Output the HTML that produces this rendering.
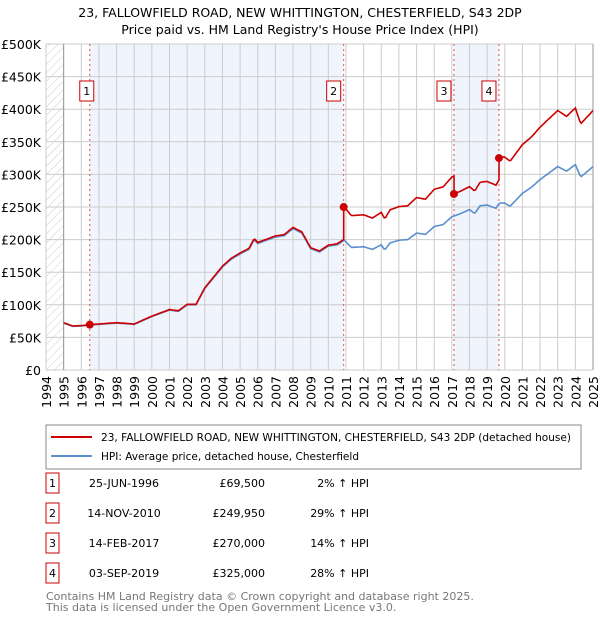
<!DOCTYPE html>
<html><head><meta charset="utf-8"><style>
body{margin:0;background:#fff;font-family:"Liberation Sans","DejaVu Sans",sans-serif;}
svg text{font-family:"DejaVu Sans","Liberation Sans",sans-serif;}
</style></head><body>
<svg id="c" width="600" height="620" viewBox="0 0 600 620">
<defs><pattern id="hatch" width="6" height="6" patternUnits="userSpaceOnUse" patternTransform="rotate(45)"><line x1="0" y1="0" x2="0" y2="6" stroke="#ccc" stroke-width="1"/></pattern></defs>
<text x="300" y="17" text-anchor="middle" font-size="12.5" fill="#000">23, FALLOWFIELD ROAD, NEW WHITTINGTON, CHESTERFIELD, S43 2DP</text>
<text x="300" y="34" text-anchor="middle" font-size="12.5" fill="#000">Price paid vs. HM Land Registry's House Price Index (HPI)</text>
<g id="plot"></g>
<g>
<rect x="46" y="425" width="535" height="44" fill="#fff" stroke="#888"/>
<line x1="51" y1="437" x2="92" y2="437" stroke="#cc0000" stroke-width="2"/>
<text x="101" y="441" font-size="11" textLength="470" lengthAdjust="spacingAndGlyphs">23, FALLOWFIELD ROAD, NEW WHITTINGTON, CHESTERFIELD, S43 2DP (detached house)</text>
<line x1="51" y1="456" x2="92" y2="456" stroke="#5b8fd0" stroke-width="2"/>
<text x="101" y="460" font-size="11" textLength="258" lengthAdjust="spacingAndGlyphs">HPI: Average price, detached house, Chesterfield</text>
</g>
<g id="table" font-size="11"></g>
<text x="46" y="600" font-size="11" fill="#777">Contains HM Land Registry data © Crown copyright and database right 2025.</text>
<text x="46" y="611" font-size="11" fill="#777">This data is licensed under the Open Government Licence v3.0.</text>
</svg>
<script>
const hpiYears=[1995,1995.5,1996,1996.5,1997,1998,1999,1999.5,2000,2001,2001.5,2002,2002.5,2003,2004,2004.5,2005,2005.5,2005.8,2006,2007,2007.5,2008,2008.5,2009,2009.5,2010,2010.5,2010.9,2011.3,2012,2012.5,2013,2013.2,2013.5,2014,2014.5,2015,2015.5,2016,2016.5,2017,2017.5,2018,2018.3,2018.6,2019,2019.5,2019.7,2020,2020.3,2021,2021.5,2022,2022.5,2023,2023.5,2024,2024.3,2024.7,2025];
const hpiValues=[72000,67000,67500,69000,70000,72000,70000,76000,82000,92000,90000,100000,100000,125000,158000,170000,178000,185000,200000,194000,204000,206000,217000,210000,186000,181000,190000,192000,199000,188000,189000,185000,192000,184000,195000,199000,200000,210000,208000,220000,223000,235000,240000,246000,240000,252000,253000,248000,256000,256000,251000,271000,280000,292000,302000,312000,305000,315000,296000,305000,312000];
const saleYears=[1996.48,2010.87,2017.12,2019.67];
const salePrices=[69500,249950,270000,325000];
const saleDates=["25-JUN-1996","14-NOV-2010","14-FEB-2017","03-SEP-2019"];
const salePct=["2%","29%","14%","28%"];
const yTicks=[0,50000,100000,150000,200000,250000,300000,350000,400000,450000,500000];
const yTickLabels=["£0","£50K","£100K","£150K","£200K","£250K","£300K","£350K","£400K","£450K","£500K"];

const NS="http://www.w3.org/2000/svg";
const X0=46,X1=593,Y0=370,Y1=44;
const xs=y=>X0+(y-1994)/31*(X1-X0);
const ys=v=>Y0-v/500000*(Y0-Y1);
const plot=document.getElementById('plot');
function mk(tag,attrs,parent){const e=document.createElementNS(NS,tag);for(const k in attrs)e.setAttribute(k,attrs[k]);(parent||plot).appendChild(e);return e;}
function interp(t){if(t<=hpiYears[0])return hpiValues[0];for(let i=1;i<hpiYears.length;i++){if(t<=hpiYears[i]){const f=(t-hpiYears[i-1])/(hpiYears[i]-hpiYears[i-1]);return hpiValues[i-1]+f*(hpiValues[i]-hpiValues[i-1]);}}return hpiValues[hpiValues.length-1];}

let e=mk('rect',{x:X0,y:Y1,width:xs(1995)-X0,height:Y0-Y1,fill:'url(#hatch)'});

const bands=[[saleYears[0],saleYears[1]],[saleYears[2],saleYears[3]]];
bands.forEach(b=>{const r=mk('rect',{x:xs(b[0]),y:Y1,width:xs(b[1])-xs(b[0]),height:Y0-Y1,fill:'#f0f4fc'});
});
for(let y=1994;y<=2025;y++){mk('line',{x1:xs(y),x2:xs(y),y1:Y1,y2:Y0,stroke:'#ccc','stroke-width':1});
const t=mk('text',{x:0,y:0,'font-size':12.5,'text-anchor':'end',transform:`translate(${xs(y)+5},${Y0+6}) rotate(-90)`});t.textContent=y;
}
yTicks.forEach((v,i)=>{mk('line',{x1:X0,x2:X1,y1:ys(v),y2:ys(v),stroke:'#ccc','stroke-width':1});
const t=mk('text',{x:X0-5,y:ys(v)+5,'font-size':12.5,'text-anchor':'end'});t.textContent=yTickLabels[i];
});
mk('line',{x1:xs(1995),x2:xs(1995),y1:Y1,y2:Y0,stroke:'#999'});
mk('line',{x1:X1,x2:X1,y1:Y1,y2:Y0,stroke:'#999'});
saleYears.forEach((s,i)=>{const l=mk('line',{x1:xs(s),x2:xs(s),y1:Y1,y2:Y0,stroke:'#e05050','stroke-dasharray':'2,3'});

const bx=xs(s)-(i==0?3:10)-7;
const g=mk('g',{});
mk('rect',{x:bx,y:81,width:14,height:20,fill:'#fff',stroke:'#cc0000'},g);
const t=mk('text',{x:bx+7,y:95,'font-size':11,'text-anchor':'middle'},g);t.textContent=i+1;});
const T=[];for(let t=1995;t<=2025.05;t+=1/12)T.push(t);
let d='';T.forEach((t,i)=>{d+=(i?'L':'M')+xs(t).toFixed(1)+','+ys(interp(t)).toFixed(1);});
e=mk('path',{d:d,fill:'none',stroke:'#5b8fd0','stroke-width':1.6});

const ratios=saleYears.map((s,i)=>salePrices[i]/interp(s));
function ratioAt(t){let r=ratios[0];for(let i=0;i<saleYears.length;i++)if(t>=saleYears[i])r=ratios[i];return r;}
const RT=T.concat(saleYears).sort((a,b)=>a-b);
d='';let prev=null;
RT.forEach((t,i)=>{if(prev!==null&&saleYears.includes(t)){d+='L'+xs(t).toFixed(1)+','+ys(interp(t)*ratioAt(prev)).toFixed(1);}
d+=(i?'L':'M')+xs(t).toFixed(1)+','+ys(interp(t)*ratioAt(t)).toFixed(1);prev=t;});
e=mk('path',{d:d,fill:'none',stroke:'#cc0000','stroke-width':1.6});

saleYears.forEach((s,i)=>{const c=mk('circle',{cx:xs(s),cy:ys(salePrices[i]),r:4,fill:'#cc0000'});
});
const tb=document.getElementById('table');
saleYears.forEach((s,i)=>{const y=483+i*30;
const g=mk('g',{},tb);
mk('rect',{x:46,y:y-10,width:13,height:20,fill:'#fff',stroke:'#cc0000'},g);
let t=mk('text',{x:52.5,y:y+4,'text-anchor':'middle'},g);t.textContent=i+1;
t=mk('text',{x:124,y:y+4,'text-anchor':'middle'},g);t.textContent=saleDates[i];
t=mk('text',{x:265,y:y+4,'text-anchor':'end'},g);t.textContent='£'+salePrices[i].toLocaleString('en-GB');
t=mk('text',{x:369,y:y+4,'text-anchor':'end'},g);t.textContent=salePct[i]+' \u2191 HPI';});
</script>
</body></html>
